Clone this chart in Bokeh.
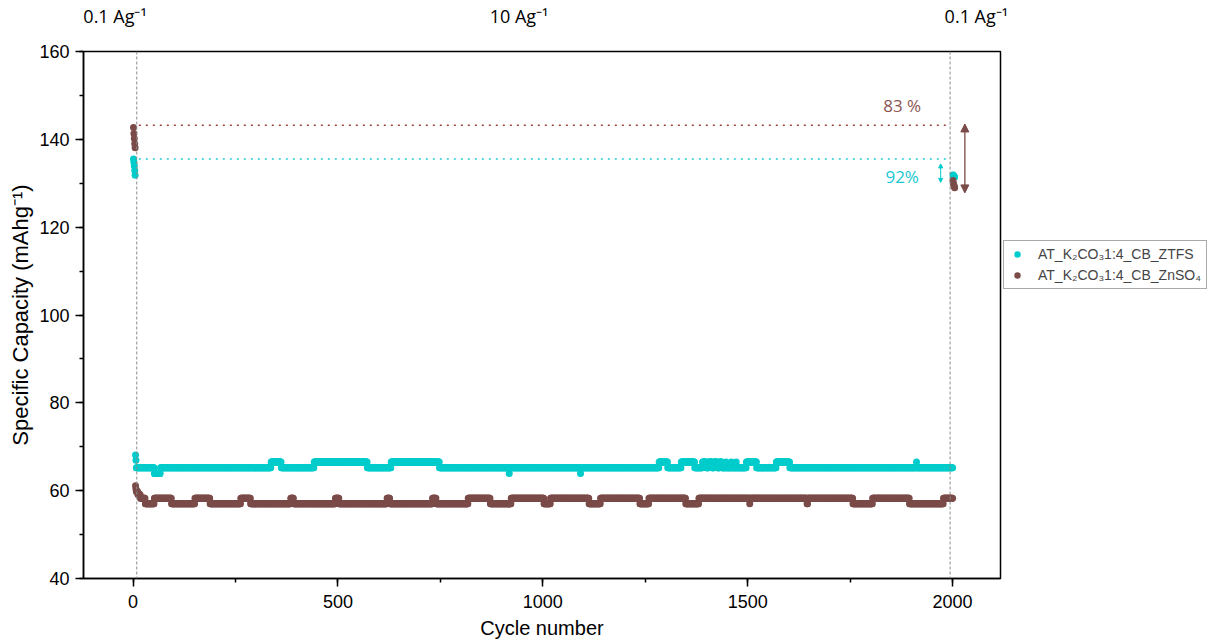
import numpy as np
from bokeh.plotting import figure
from bokeh.models import (Range1d, LinearAxis, FixedTicker, SingleIntervalTicker, Span,
                          Label, Arrow, NormalHead, Legend, LegendItem)
from bokeh.embed import file_html
from bokeh.resources import INLINE

# ---------------- data ----------------
series_names = ["AT_K\u2082CO\u20831:4_CB_ZTFS", "AT_K\u2082CO\u20831:4_CB_ZnSO\u2084"]

# 0.1 A/g, first five cycles
cyan_first_cycles = [1, 2, 3, 4, 5]
cyan_first_vals = [135.5, 134.8, 134.0, 132.9, 131.8]
brown_first_vals = [142.7, 141.3, 140.2, 139.0, 138.1]

# 10 A/g, start-up cycles
cyan_init_cycles = [6, 7]
cyan_init_vals = [68.1, 66.9]
brown_init_cycles = list(range(6, 30))
brown_init_vals = [61.1, 60.4, 59.8, 59.8, 59.8, 59.8, 59.1, 59.1, 59.1, 59.1, 59.1, 59.1,
                   58.3, 58.3, 58.3, 58.3, 58.3, 58.3, 58.3, 58.3, 58.3, 58.3, 58.3, 58.3]

# 10 A/g, quantised plateaus (run start cycle, capacity) up to cycle 2000
last_fast_cycle = 2000
cyan_run_start = [8, 52, 67, 337, 362, 442, 572, 630, 748, 918, 919, 1092, 1093, 1284, 1305,
                  1338, 1371, 1390, 1399, 1405, 1413, 1418, 1426, 1432, 1437, 1447, 1448, 1460,
                  1461, 1472, 1473, 1497, 1522, 1570, 1603, 1912, 1913]
cyan_run_value = [65.2, 63.9, 65.2, 66.5, 65.2, 66.5, 65.2, 66.5, 65.2, 63.9, 65.2, 63.9, 65.2,
                  66.5, 65.2, 66.5, 65.2, 66.5, 65.2, 66.5, 65.2, 66.5, 65.2, 66.5, 65.2, 66.5,
                  65.2, 66.5, 65.2, 66.5, 65.2, 66.5, 65.2, 66.5, 65.2, 66.5, 65.2]
brown_run_start = [30, 52, 94, 151, 188, 263, 287, 385, 392, 494, 503, 620, 627, 731, 740, 818,
                   872, 923, 1003, 1019, 1113, 1141, 1237, 1259, 1349, 1381, 1505, 1506, 1645,
                   1647, 1757, 1805, 1895, 1978]
brown_run_value = [57.0, 58.3, 57.0, 58.3, 57.0, 58.3, 57.0, 58.3, 57.0, 58.3, 57.0, 58.3, 57.0,
                   58.3, 57.0, 58.3, 57.0, 58.3, 57.0, 58.3, 57.0, 58.3, 57.0, 58.3, 57.0, 58.3,
                   57.0, 58.3, 57.0, 58.3, 57.0, 58.3, 57.0, 58.3]

# back to 0.1 A/g
end_cycles = [2001, 2002, 2003, 2004, 2005]
cyan_end_vals = [131.9, 131.8, 131.6, 131.5, 131.4]
brown_end_vals = [130.6, 130.0, 129.6, 129.3, 129.0]

# retention annotation
retention_labels = ["83 %", "92%"]
brown_ref_level = 143.2
cyan_ref_level = 135.5
rate_change_cycles = [9, 1994]
rate_labels = ["0.1 Ag\u207b\u00b9", "10 Ag\u207b\u00b9", "0.1 Ag\u207b\u00b9"]
rate_label_pos = [-44, 942, 2058]


def expand_runs(starts, values, last):
    xs, ys = [], []
    for i, s in enumerate(starts):
        e = starts[i + 1] - 1 if i + 1 < len(starts) else last
        for c in range(s, e + 1):
            xs.append(c)
            ys.append(values[i])
    return xs, ys


cx_run, cy_run = expand_runs(cyan_run_start, cyan_run_value, last_fast_cycle)
bx_run, by_run = expand_runs(brown_run_start, brown_run_value, last_fast_cycle)

cyan_x = cyan_first_cycles + cyan_init_cycles + cx_run + end_cycles
cyan_y = cyan_first_vals + cyan_init_vals + cy_run + cyan_end_vals
brown_x = cyan_first_cycles + brown_init_cycles + bx_run + end_cycles
brown_y = brown_first_vals + brown_init_vals + by_run + brown_end_vals

CYAN = "#00CCCC"
BROWN = "#7A4B48"

p = figure(frame_width=917, frame_height=527,
           x_range=Range1d(-121, 2117), y_range=Range1d(40, 160),
           output_backend="svg", toolbar_location=None,
           min_border_left=83, min_border_top=43, min_border_bottom=0, min_border_right=5)
p.background_fill_color = "white"
p.border_fill_color = "white"
p.xgrid.grid_line_color = None
p.ygrid.grid_line_color = None
p.outline_line_color = "black"
p.outline_line_width = 1.5
p.outline_line_alpha = 1

# vertical dashed separators
for c in rate_change_cycles:
    p.add_layout(Span(location=c, dimension="height", line_color="#8a8a8a",
                      line_dash="3 2", line_width=1))

# reference dotted lines
p.segment(x0=[14], y0=[brown_ref_level], x1=[1986], y1=[brown_ref_level],
          line_color="#A0403C", line_dash="2 5", line_width=1.5)
p.segment(x0=[14], y0=[cyan_ref_level], x1=[1986], y1=[cyan_ref_level],
          line_color="#22CCD0", line_dash="2 5", line_width=1.5)

r_cyan = p.scatter(cyan_x, cyan_y, size=7, color=CYAN, line_color=None)
r_brown = p.scatter(brown_x, brown_y, size=7, color=BROWN, line_color=None)

# arrows
p.add_layout(Arrow(start=NormalHead(size=8, fill_color=BROWN, line_color=BROWN),
                   end=NormalHead(size=8, fill_color=BROWN, line_color=BROWN),
                   x_start=2030, y_start=brown_ref_level + 0.3, x_end=2030, y_end=127.8,
                   line_color=BROWN, line_width=1.3))
p.add_layout(Arrow(start=NormalHead(size=4, fill_color=CYAN, line_color=CYAN),
                   end=NormalHead(size=4, fill_color=CYAN, line_color=CYAN),
                   x_start=1971, y_start=134.4, x_end=1971, y_end=130.2,
                   line_color=CYAN, line_width=1))

p.add_layout(Label(x=1877, y=147.7, text=retention_labels[0], text_color="#8B5552",
                   text_font="Open Sans", text_font_size="17px",
                   text_align="center", text_baseline="middle"))
p.add_layout(Label(x=1877, y=131.5, text=retention_labels[1], text_color="#18C8CF",
                   text_font="Open Sans", text_font_size="17px",
                   text_align="center", text_baseline="middle"))

# axes
xa = p.xaxis[0]
xa.ticker = SingleIntervalTicker(interval=500, num_minor_ticks=2)
xa.axis_label = "Cycle number"
ya = p.yaxis[0]
ya.ticker = SingleIntervalTicker(interval=20, num_minor_ticks=2)
ya.axis_label = "Specific Capacity (mAhg\u207b\u00b9)"
for ax in (xa, ya):
    ax.axis_line_width = 1.5
    ax.axis_line_color = "black"
    ax.major_tick_out = 8
    ax.major_tick_in = 0
    ax.minor_tick_out = 4
    ax.minor_tick_in = 0
    ax.major_tick_line_width = 1.5
    ax.minor_tick_line_width = 1.5
    ax.major_tick_line_color = "black"
    ax.minor_tick_line_color = "black"
    ax.major_label_text_font = "Liberation Sans"
    ax.major_label_text_font_size = "18px"
    ax.major_label_text_color = "black"
    ax.axis_label_text_font = "Liberation Sans"
    ax.axis_label_text_font_style = "normal"
    ax.axis_label_text_color = "black"
xa.axis_label_text_font_size = "20px"
ya.axis_label_text_font_size = "22px"
xa.major_label_standoff = 8
xa.axis_label_standoff = 6
ya.major_label_standoff = 6
ya.axis_label_standoff = 3

top = LinearAxis(ticker=FixedTicker(ticks=rate_label_pos),
                 major_label_overrides={k: t for k, t in zip(rate_label_pos, rate_labels)})
top.axis_line_color = None
top.major_tick_line_color = None
top.minor_tick_line_color = None
top.major_label_standoff = 18
top.major_label_text_font = "Open Sans"
top.major_label_text_font_size = "18px"
top.major_label_text_color = "black"
p.add_layout(top, "above")

legend = Legend(items=[LegendItem(label=series_names[0], renderers=[r_cyan]),
                       LegendItem(label=series_names[1], renderers=[r_brown])],
                location=(3, 289), margin=0, padding=5, spacing=5,
                glyph_width=16, glyph_height=16, label_standoff=13,
                label_text_font="Liberation Sans", label_text_font_size="14px",
                border_line_color="#555555", border_line_width=1,
                background_fill_color="white")
p.add_layout(legend, "right")

open("out.html", "w").write(file_html(p, INLINE))
